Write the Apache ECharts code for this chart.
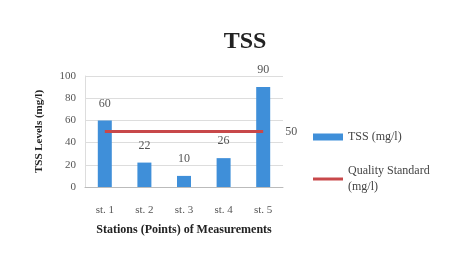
<!DOCTYPE html>
<html>
<head>
<meta charset="utf-8">
<script src="https://cdn.jsdelivr.net/npm/echarts@6/dist/echarts.min.js"></script>
<style>
  html, body { margin: 0; padding: 0; background: #fff; }
  #main { width: 459px; height: 258px; }
</style>
</head>
<body>
<div id="main"></div>
<script>
const stations = ['st. 1', 'st. 2', 'st. 3', 'st. 4', 'st. 5']
const tssValues = [60, 22, 10, 26, 90]
const qualityStandard = [50, 50, 50, 50, 50]
const yTicks = [0, 20, 40, 60, 80, 100]

const serif = '"Liberation Serif", "DejaVu Serif", serif'
const chart = echarts.init(document.getElementById('main'))

const option = {
  backgroundColor: '#fff',
  animation: false,
  title: {
    text: 'TSS',
    left: 240,
    top: 25,
    textAlign: 'center',
    textStyle: { fontFamily: serif, fontSize: 24, fontWeight: 'bold', color: '#222' }
  },
  legend: {
    orient: 'vertical',
    left: 308,
    top: 124,
    itemGap: 18,
    itemWidth: 30,
    itemHeight: 7,
    textStyle: { fontFamily: serif, fontSize: 12, color: '#444', lineHeight: 16 },
    data: [
      { name: 'TSS (mg/l)', icon: 'rect' },
      // flat path so the line legend shows no marker dot
      { name: 'Quality Standard (mg/l)', icon: 'path://M0,0H10V1H0Z' }
    ],
    formatter: name => name.startsWith('Quality') ? 'Quality Standard\n(mg/l)' : name
  },
  grid: { left: 85, top: 76, width: 198, height: 111 },
  xAxis: {
    type: 'category',
    data: stations,
    name: 'Stations (Points) of Measurements',
    nameLocation: 'middle',
    nameGap: 37,
    nameTextStyle: { fontFamily: serif, fontSize: 12, fontWeight: 'bold', color: '#222' },
    axisLine: { lineStyle: { color: '#bbb' } },
    axisTick: { show: false },
    axisLabel: { fontFamily: serif, fontSize: 11, color: '#555', margin: 18 }
  },
  yAxis: {
    type: 'value',
    min: yTicks[0],
    max: yTicks[yTicks.length - 1],
    interval: 20,
    name: 'TSS Levels (mg/l)',
    nameLocation: 'middle',
    nameGap: 40,
    nameTextStyle: { fontFamily: serif, fontSize: 11, fontWeight: 'bold', color: '#222' },
    axisLine: { show: true, lineStyle: { color: '#ddd' } },
    axisLabel: { fontFamily: serif, fontSize: 11, color: '#555', margin: 9 },
    splitLine: { lineStyle: { color: '#ddd' } }
  },
  series: [
    {
      name: 'TSS (mg/l)',
      type: 'bar',
      data: tssValues,
      barWidth: 14,
      itemStyle: { color: '#3f8fd9' },
      label: { show: true, position: 'top', distance: 11, fontFamily: serif, fontSize: 12, color: '#555' }
    },
    {
      name: 'Quality Standard (mg/l)',
      type: 'line',
      data: qualityStandard,
      symbol: 'none',
      lineStyle: { color: '#c8484a', width: 3 },
      itemStyle: { color: '#c8484a' },
      endLabel: { show: true, distance: 22, fontFamily: serif, fontSize: 12, color: '#555' }
    }
  ]
}

chart.setOption(option)
</script>
</body>
</html>
